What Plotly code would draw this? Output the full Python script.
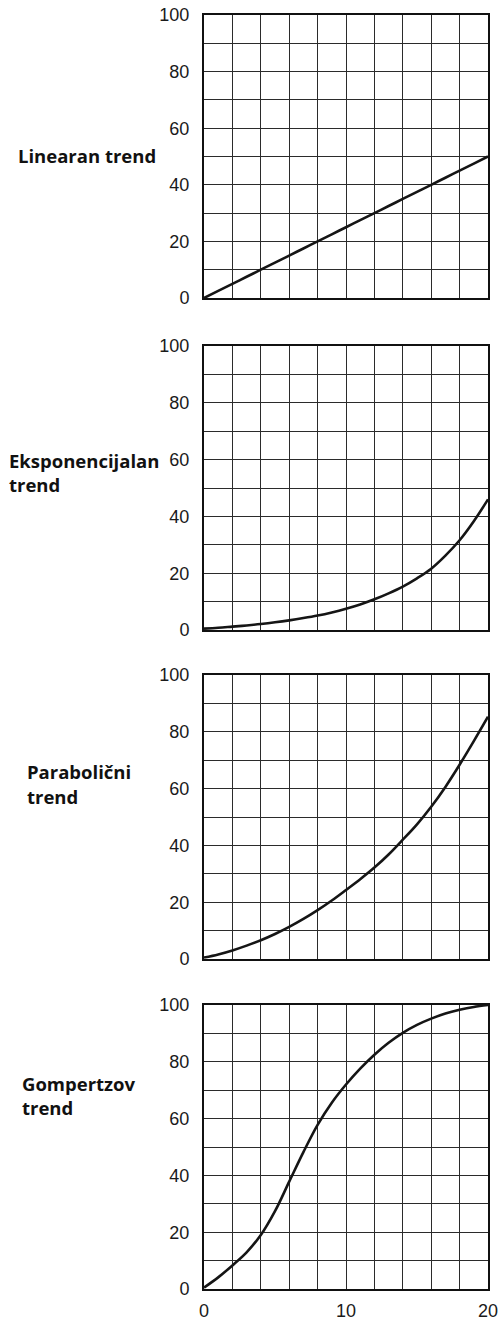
import plotly.graph_objects as go

# --- data ---
x_vals = [0, 1, 2, 3, 4, 5, 6, 7, 8, 9, 10, 11, 12, 13, 14, 15, 16, 17, 18, 19, 20]

linear_y = [0, 2.5, 5, 7.5, 10, 12.5, 15, 17.5, 20, 22.5, 25, 27.5, 30, 32.5, 35, 37.5, 40, 42.5, 45, 47.5, 50]
exponential_y = [0.5, 0.8, 1.2, 1.6, 2.1, 2.7, 3.4, 4.2, 5.1, 6.2, 7.5, 9.0, 10.8, 12.9, 15.3, 18.2, 21.6, 26.2, 31.6, 38.3, 46.0]
parabolic_y = [0.5, 1.6, 3.0, 4.7, 6.6, 8.8, 11.3, 14.1, 17.2, 20.6, 24.3, 28.1, 32.2, 36.8, 42.0, 47.4, 53.6, 60.6, 68.4, 76.7, 85.3]
gompertz_y = [0.5, 4.1, 8.3, 12.9, 19.0, 27.4, 37.8, 48.2, 57.8, 65.6, 72.0, 77.6, 82.5, 86.7, 90.2, 93.0, 95.2, 97.0, 98.3, 99.3, 100.0]

series = [linear_y, exponential_y, parabolic_y, gompertz_y]

# label lines: (text, centre y in px, left x in px)
panel_labels = [
    [("Linearan trend", 155, 16)],
    [("Eksponencijalan", 460, 7), ("trend", 485, 7)],
    [("Parabolični", 771, 25), ("trend", 796, 25)],
    [("Gompertzov", 1083, 20), ("trend", 1107, 20)],
]

y_tick_vals = [0, 20, 40, 60, 80, 100]
x_tick_vals = [0, 10, 20]

W, H = 502, 1324
# panel boxes in pixels (top, bottom)
panel_px = [(15, 298), (346, 630), (675, 959), (1005, 1289)]
x_left, x_right = 204, 488


def px_x(x):
    return x / W


def px_y(y):
    return 1 - y / H


GRID = "#2b2b2b"
TXT = "#1a1a1a"
tick_font = dict(family="Liberation Sans, Arial", size=18, color=TXT)

fig = go.Figure()
layout = {}
for i, ys in enumerate(series):
    n = "" if i == 0 else str(i + 1)
    fig.add_trace(go.Scatter(
        x=x_vals, y=ys, mode="lines",
        line=dict(color="#151515", width=2.6, shape="spline", smoothing=1),
        xaxis="x" + n, yaxis="y" + n, showlegend=False, hoverinfo="skip"))

    top, bot = panel_px[i]
    last = i == len(series) - 1
    layout["xaxis" + n] = dict(
        domain=[px_x(x_left), px_x(x_right)], anchor="y" + n, range=[0, 20],
        tickvals=x_tick_vals, showticklabels=last, showgrid=False, automargin=False,
        zeroline=False, showline=True, mirror=True, linecolor="#111", linewidth=2,
        ticks="", ticklabelstandoff=4, ticklabeloverflow="allow", tickfont=tick_font,
        minor=dict(dtick=2, showgrid=True, gridcolor=GRID, gridwidth=1.4, ticks=""),
        fixedrange=True)
    layout["yaxis" + n] = dict(
        domain=[px_y(bot), px_y(top)], anchor="x" + n, range=[0, 100],
        tickvals=y_tick_vals, showgrid=True, gridcolor=GRID, gridwidth=1.4, automargin=False,
        zeroline=False, showline=True, mirror=True, linecolor="#111", linewidth=2,
        ticks="", ticklabelstandoff=9, ticklabeloverflow="allow", tickfont=tick_font,
        minor=dict(dtick=10, showgrid=True, gridcolor=GRID, gridwidth=1.4, ticks=""),
        fixedrange=True)

annotations = []
for lines in panel_labels:
    for text, cy, lx in lines:
        annotations.append(dict(
            text=text, xref="paper", yref="paper", x=px_x(lx), y=px_y(cy),
            xanchor="left", yanchor="middle", showarrow=False,
            font=dict(family="Open Sans", size=18.5, color="#111", weight="bold")))

fig.update_layout(
    width=W, height=H, margin=dict(l=0, r=0, t=0, b=0, autoexpand=False),
    paper_bgcolor="white", plot_bgcolor="white",
    annotations=annotations, **layout)

# drop the default body margin so the figure fills the window exactly
fig.write_html("out.html", config={"displayModeBar": False},
               post_script="document.body.style.margin='0';")
